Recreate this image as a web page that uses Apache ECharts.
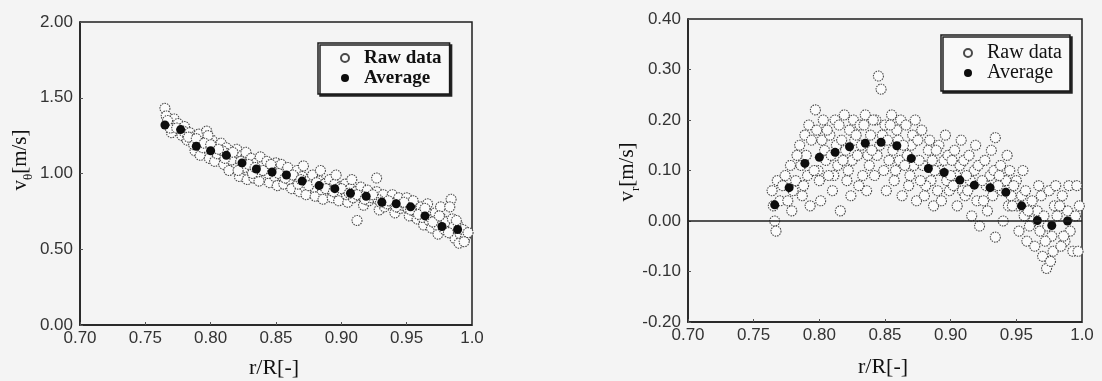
<!DOCTYPE html>
<html><head><meta charset="utf-8">
<script src="https://cdn.jsdelivr.net/npm/echarts@6/dist/echarts.min.js"></script>
<style>html,body{margin:0;padding:0;background:#f4f4f4;}#c{width:1102px;height:381px;}</style>
</head><body><div id="c"></div>
<script>
// left chart, tangential velocity
const thetaAvg = [[0.765,1.32],[0.777,1.29],[0.789,1.18],[0.800,1.15],[0.812,1.12],[0.824,1.07],[0.835,1.03],[0.847,1.01],[0.858,0.99],[0.870,0.95],[0.883,0.92],[0.895,0.90],[0.907,0.87],[0.919,0.85],[0.931,0.81],[0.942,0.80],[0.953,0.78],[0.964,0.72],[0.977,0.65],[0.989,0.63]];
const thetaRaw = [
[0.765,1.43],[0.766,1.38],[0.768,1.34],[0.770,1.27],[0.772,1.36],[0.769,1.30],
[0.775,1.33],[0.778,1.25],[0.780,1.31],[0.782,1.22],[0.779,1.28],[0.784,1.27],
[0.786,1.24],[0.788,1.15],[0.790,1.21],[0.792,1.12],[0.791,1.26],[0.794,1.17],[0.787,1.19],
[0.797,1.28],[0.799,1.10],[0.801,1.22],[0.803,1.08],[0.802,1.18],[0.805,1.13],[0.798,1.25],
[0.808,1.20],[0.810,1.06],[0.812,1.17],[0.814,1.02],[0.813,1.13],[0.816,1.09],[0.809,1.15],
[0.820,1.16],[0.822,0.98],[0.824,1.12],[0.826,1.04],[0.825,1.09],[0.828,0.96],[0.821,1.02],[0.827,1.14],
[0.831,1.10],[0.833,0.97],[0.835,1.07],[0.837,0.95],[0.836,1.01],[0.839,1.05],[0.832,1.00],[0.838,1.11],
[0.843,1.08],[0.845,0.94],[0.847,1.05],[0.849,0.98],[0.848,1.03],[0.851,0.92],[0.844,1.00],[0.850,1.07],
[0.854,1.06],[0.856,0.93],[0.858,1.02],[0.860,0.96],[0.859,1.04],[0.862,0.90],[0.855,0.98],
[0.866,1.02],[0.868,0.88],[0.870,0.98],[0.872,0.91],[0.871,1.05],[0.874,0.95],[0.867,0.93],[0.873,0.86],
[0.878,0.99],[0.880,0.85],[0.883,0.95],[0.885,0.89],[0.884,1.02],[0.887,0.93],[0.879,0.91],[0.886,0.83],
[0.891,0.96],[0.893,0.84],[0.895,0.93],[0.897,0.87],[0.896,0.99],[0.899,0.91],[0.892,0.89],[0.898,0.82],
[0.903,0.93],[0.905,0.81],[0.907,0.90],[0.909,0.84],[0.908,0.96],[0.911,0.88],[0.904,0.86],[0.912,0.69],
[0.915,0.91],[0.917,0.79],[0.919,0.87],[0.921,0.82],[0.920,0.89],[0.923,0.84],[0.916,0.85],[0.927,0.97],
[0.927,0.88],[0.929,0.76],[0.931,0.84],[0.933,0.78],[0.932,0.86],[0.935,0.80],[0.928,0.83],
[0.939,0.86],[0.941,0.74],[0.943,0.82],[0.945,0.77],[0.944,0.84],[0.947,0.79],[0.940,0.80],
[0.950,0.84],[0.952,0.72],[0.954,0.80],[0.956,0.75],[0.955,0.82],[0.958,0.70],[0.951,0.77],
[0.961,0.78],[0.963,0.66],[0.965,0.75],[0.967,0.69],[0.966,0.80],[0.969,0.64],[0.962,0.71],
[0.972,0.74],[0.974,0.60],[0.977,0.70],[0.979,0.63],[0.976,0.78],[0.980,0.68],[0.973,0.66],
[0.985,0.70],[0.987,0.57],[0.989,0.66],[0.991,0.60],[0.990,0.54],[0.993,0.63],[0.986,0.65],[0.984,0.83],[0.983,0.78],[0.995,0.58],
[0.767,1.35],[0.774,1.30],[0.783,1.24],[0.789,1.23],[0.795,1.20],[0.800,1.19],[0.806,1.16],[0.811,1.10],[0.817,1.14],[0.823,1.08],
[0.829,1.06],[0.834,1.04],[0.840,1.02],[0.846,1.06],[0.852,1.00],[0.857,0.97],[0.863,0.99],[0.869,0.96],[0.875,0.92],[0.881,0.94],
[0.888,0.90],[0.894,0.88],[0.900,0.90],[0.906,0.87],[0.912,0.86],[0.918,0.83],[0.924,0.86],[0.930,0.81],[0.936,0.82],[0.942,0.78],
[0.948,0.81],[0.953,0.76],[0.959,0.73],[0.964,0.77],[0.970,0.68],[0.975,0.72],[0.982,0.61],[0.988,0.69],[0.994,0.55],[0.997,0.61]
];
// right chart, radial velocity
const radialAvg = [[0.766,0.032],[0.777,0.066],[0.789,0.114],[0.800,0.126],[0.812,0.136],[0.823,0.147],[0.835,0.154],[0.847,0.156],[0.859,0.149],[0.870,0.124],[0.883,0.104],[0.895,0.096],[0.907,0.081],[0.918,0.071],[0.930,0.066],[0.942,0.057],[0.954,0.030],[0.966,0.001],[0.977,-0.009],[0.989,0.000]];
const radialRaw = [
[0.764,0.06],[0.766,0.00],[0.768,0.08],[0.770,0.04],[0.767,-0.02],[0.772,0.07],[0.765,0.03],
[0.774,0.09],[0.776,0.04],[0.778,0.11],[0.780,0.06],[0.779,0.02],[0.782,0.08],
[0.785,0.15],[0.787,0.05],[0.789,0.17],[0.791,0.09],[0.790,0.13],[0.793,0.03],[0.786,0.11],[0.792,0.19],
[0.797,0.22],[0.798,0.18],[0.800,0.08],[0.802,0.16],[0.801,0.04],[0.804,0.14],[0.799,0.10],[0.803,0.20],[0.805,0.12],
[0.808,0.17],[0.810,0.06],[0.812,0.20],[0.814,0.11],[0.813,0.15],[0.816,0.02],[0.809,0.13],[0.815,0.19],[0.811,0.09],
[0.819,0.21],[0.821,0.08],[0.823,0.18],[0.825,0.12],[0.824,0.05],[0.827,0.16],[0.820,0.14],[0.826,0.20],[0.822,0.10],
[0.831,0.19],[0.833,0.09],[0.835,0.21],[0.837,0.13],[0.836,0.06],[0.839,0.17],[0.832,0.15],[0.838,0.11],[0.834,0.19],
[0.843,0.20],[0.845,0.287],[0.847,0.261],[0.849,0.10],[0.848,0.17],[0.851,0.06],[0.844,0.13],[0.850,0.19],[0.846,0.15],
[0.855,0.21],[0.857,0.08],[0.859,0.18],[0.861,0.12],[0.860,0.16],[0.863,0.05],[0.856,0.14],[0.862,0.20],[0.858,0.10],
[0.866,0.19],[0.868,0.07],[0.870,0.15],[0.872,0.11],[0.871,0.17],[0.874,0.04],[0.867,0.13],[0.873,0.20],[0.869,0.09],
[0.878,0.18],[0.880,0.05],[0.883,0.14],[0.885,0.08],[0.884,0.16],[0.887,0.03],[0.879,0.11],[0.886,0.12],[0.881,0.07],
[0.891,0.15],[0.893,0.04],[0.895,0.12],[0.897,0.08],[0.896,0.17],[0.899,0.06],[0.892,0.10],[0.898,0.13],
[0.903,0.14],[0.905,0.03],[0.907,0.11],[0.909,0.06],[0.908,0.16],[0.911,0.05],[0.904,0.09],[0.910,0.12],
[0.914,0.13],[0.916,0.01],[0.918,0.10],[0.920,0.04],[0.919,0.15],[0.922,-0.01],[0.915,0.08],[0.921,0.11],
[0.926,0.12],[0.928,0.02],[0.930,0.09],[0.932,0.05],[0.931,0.14],[0.934,0.165],[0.934,-0.032],[0.927,0.07],[0.933,0.10],
[0.938,0.11],[0.940,0.00],[0.942,0.08],[0.944,0.03],[0.943,0.13],[0.946,0.05],[0.939,0.06],[0.945,0.10],
[0.950,0.08],[0.952,-0.02],[0.954,0.05],[0.956,0.01],[0.955,0.10],[0.958,-0.04],[0.951,0.03],[0.957,0.06],
[0.962,0.04],[0.964,-0.05],[0.966,0.02],[0.968,-0.02],[0.967,0.07],[0.970,-0.07],[0.963,0.00],[0.969,0.05],
[0.973,-0.094],[0.975,0.06],[0.977,-0.03],[0.979,0.03],[0.978,-0.06],[0.981,0.01],[0.974,-0.01],[0.980,0.07],[0.976,-0.08],
[0.985,0.05],[0.987,-0.04],[0.989,0.02],[0.991,-0.02],[0.990,0.07],[0.993,-0.06],[0.996,0.07],[0.997,-0.06],[0.995,0.01],[0.986,-0.03],
[0.783,0.13],[0.788,0.07],[0.794,0.16],[0.796,0.10],[0.806,0.18],[0.807,0.09],[0.817,0.16],[0.818,0.12],[0.828,0.17],[0.829,0.13],
[0.830,0.07],[0.840,0.14],[0.841,0.20],[0.842,0.09],[0.852,0.16],[0.853,0.12],[0.854,0.19],[0.864,0.15],[0.865,0.11],[0.875,0.16],
[0.876,0.12],[0.877,0.08],[0.888,0.10],[0.889,0.14],[0.890,0.06],[0.900,0.09],[0.901,0.12],[0.902,0.07],[0.912,0.09],[0.913,0.06],
[0.924,0.08],[0.925,0.04],[0.936,0.07],[0.937,0.09],[0.947,0.03],[0.948,0.07],[0.959,0.02],[0.960,-0.01],[0.971,0.01],[0.972,-0.04],
[0.983,0.03],[0.984,-0.05],[0.998,0.03]
];
const xRange = [0.70, 1.00, 0.05];
const thetaRange = [0, 2, 0.5];
const radialRange = [-0.2, 0.4, 0.1];
const seriesNames = ['Raw data', 'Average'];
const xTitle = 'r/R[-]';

const chart = echarts.init(document.getElementById('c'), null, {renderer:'canvas'});
const lblFont = {fontFamily:'Liberation Sans, Arial, sans-serif', fontSize:17, color:'#333'};
const axisLineStyle = {color:'#1e1e1e', width:1.5};
function xAx(gi){
  return {type:'value', gridIndex:gi, min:xRange[0], max:xRange[1], interval:xRange[2],
    axisLine:{show:true, onZero:false, lineStyle:axisLineStyle},
    axisTick:{show:true, inside:true, length:3, lineStyle:{color:'#555'}},
    splitLine:{show:false},
    axisLabel:Object.assign({margin:5, formatter:v=>Math.abs(v-1)<1e-9?'1.0':v.toFixed(2)}, lblFont)};
}
function yAx(gi, r){
  return {type:'value', gridIndex:gi, min:r[0], max:r[1], interval:r[2],
    axisLine:{show:true, onZero:false, lineStyle:axisLineStyle},
    axisTick:{show:true, inside:true, length:3, lineStyle:{color:'#555'}},
    splitLine:{show:false},
    axisLabel:Object.assign({margin:7, formatter:v=>v.toFixed(2)}, lblFont)};
}
const rawStyle = {color:'#fbfbfb', borderColor:'#4a4a4a', borderWidth:1.1, borderType:[1.5,1], opacity:1};
const avgStyle = {color:'#0d0d0d', opacity:1};
function legendCfg(left, top, bold, fs, lh, pad){
  return {show:true, left:left, top:top, orient:'vertical', data:seriesNames, selectedMode:false,
    icon:'circle', itemWidth:8, itemHeight:8, itemGap:0,
    padding:pad, backgroundColor:'#f9f9f9', borderColor:'#1a1a1a', borderWidth:1.5,
    shadowColor:'#222', shadowBlur:0, shadowOffsetX:2, shadowOffsetY:2,
    textStyle:{fontFamily:'Liberation Serif, Times New Roman, serif', fontWeight:bold?'bold':'normal', fontSize:fs, lineHeight:lh, color:'#111', padding:[0,0,0,10]}};
}
const titleFont = 'Liberation Serif, Times New Roman, serif';
function yTitle(x, y, sub){
  return {type:'text', x:x, y:y, rotation:Math.PI/2, z:10,
    style:{text:'{v|v}{s|'+sub+'}{u|[m/s]}', align:'center', verticalAlign:'middle', fill:'#111',
      rich:{v:{fontFamily:titleFont, fontSize:21, lineHeight:20, verticalAlign:'middle', fill:'#111'},
            s:{fontFamily:titleFont, fontSize:13, lineHeight:30, verticalAlign:'bottom', fill:'#111'},
            u:{fontFamily:titleFont, fontSize:21, lineHeight:20, verticalAlign:'middle', fill:'#111'}}}};
}
function xTitleG(x, y){
  return {type:'text', x:x, y:y, z:10, style:{text:xTitle, align:'center', verticalAlign:'middle', font:'22px '+titleFont, fill:'#111'}};
}
chart.setOption({
  animation:false,
  backgroundColor:'#f4f4f4',
  grid:[
    {left:80, top:22, width:392, height:303, show:true, borderColor:'#1e1e1e', borderWidth:1.5, backgroundColor:'transparent'},
    {left:688, top:19, width:394, height:303, show:true, borderColor:'#1e1e1e', borderWidth:1.5, backgroundColor:'transparent'}
  ],
  xAxis:[xAx(0), xAx(1)],
  yAxis:[yAx(0, thetaRange), yAx(1, radialRange)],
  legend:[legendCfg(318, 43, true, 19, 20, [5,8,6,22]), legendCfg(941, 35, false, 20, 18, [8,8,8,22])],
  series:[
    {name:seriesNames[0], type:'scatter', xAxisIndex:0, yAxisIndex:0, data:thetaRaw, symbol:'circle', symbolSize:10, itemStyle:rawStyle, z:2},
    {name:seriesNames[1], type:'scatter', xAxisIndex:0, yAxisIndex:0, data:thetaAvg, symbol:'circle', symbolSize:9, itemStyle:avgStyle, z:3},
    {name:seriesNames[0], type:'scatter', xAxisIndex:1, yAxisIndex:1, data:radialRaw, symbol:'circle', symbolSize:10, itemStyle:rawStyle, z:2},
    {name:seriesNames[1], type:'scatter', xAxisIndex:1, yAxisIndex:1, data:radialAvg, symbol:'circle', symbolSize:9, itemStyle:avgStyle, z:3,
      markLine:{silent:true, symbol:'none', label:{show:false}, lineStyle:{color:'#1e1e1e', width:1.5, type:'solid'}, data:[{yAxis:0}]}}
  ],
  graphic:[yTitle(20, 160, 'θ'), yTitle(627, 172, 'r'), xTitleG(274, 368), xTitleG(883, 367)]
});
</script></body></html>
